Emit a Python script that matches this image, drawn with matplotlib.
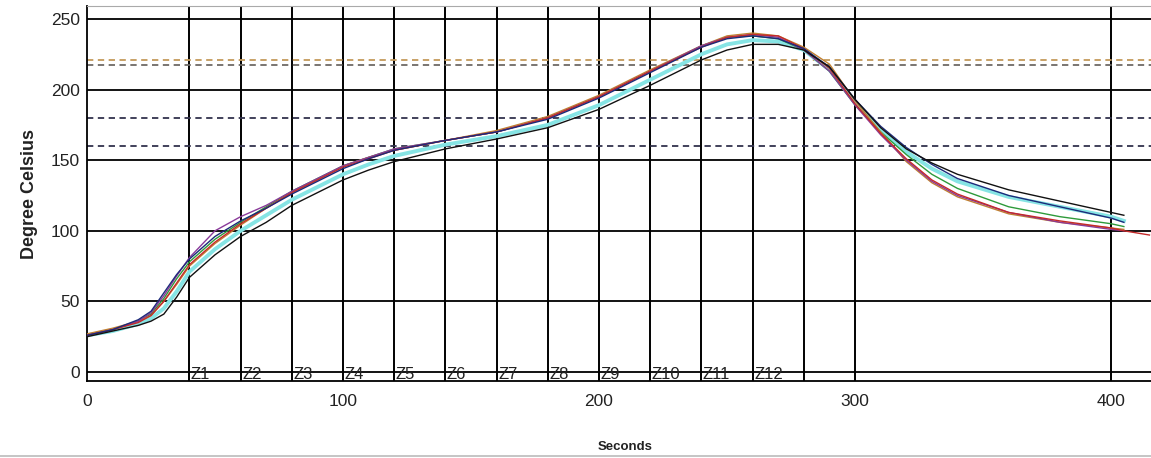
import matplotlib
matplotlib.use("Agg")
import matplotlib.pyplot as plt
from matplotlib.lines import Line2D

plt.rcParams['font.family'] = ['Liberation Sans', 'DejaVu Sans']

# Zeitachse (Sekunden) für alle Messfühler
t = [0, 10, 20, 25, 30, 35, 40, 50, 60, 70, 80, 90, 100, 110, 120, 140, 160, 180,
     200, 220, 240, 250, 260, 270, 280, 290, 300, 310, 320, 330, 340, 360, 380, 400, 405]
t_red = t + [415]

# Temperaturen der einzelnen Kanäle (°C)
temp_red = [26, 30, 35, 40, 50, 63, 76, 92, 105, 116, 127, 136, 145, 151, 157, 164, 170, 180,
            195, 213, 230, 237, 239, 238, 229, 215, 190, 169, 151, 136, 126, 113, 107, 102, 100, 97]
temp_green = [26, 30, 36, 41, 52, 66, 78, 94, 106, 117, 128, 137, 146, 152, 158, 164, 170, 180,
              195, 213, 231, 237, 238, 236, 228, 213, 189, 170, 154, 140, 130, 117, 110, 105, 103]
temp_navy = [26, 30, 37, 43, 56, 69, 80, 96, 107, 116, 126, 135, 144, 151, 157, 164, 170, 179,
             194, 212, 230, 236, 238, 236, 229, 216, 193, 174, 159, 147, 137, 125, 117, 109, 106]
temp_purple = [26, 30, 36, 42, 54, 68, 81, 100, 110, 118, 128, 137, 146, 152, 158, 164, 170, 180,
               195, 213, 231, 237, 239, 237, 228, 213, 189, 168, 150, 135, 125, 113, 106, 101, 100]
temp_orange = [27, 31, 36, 40, 50, 62, 75, 91, 104, 116, 127, 136, 146, 152, 157, 164, 171, 181,
               196, 214, 231, 238, 240, 238, 230, 218, 192, 170, 149, 134, 124, 112, 106, 102, 101]
temp_cyan = [26, 29, 34, 38, 45, 57, 71, 87, 100, 111, 122, 131, 140, 147, 153, 161, 167, 175,
             189, 207, 225, 232, 235, 234, 228, 214, 191, 171, 156, 144, 135, 124, 117, 110, 107]
temp_black = [25, 29, 33, 36, 41, 53, 67, 83, 96, 106, 118, 127, 136, 143, 149, 158, 165, 173,
              186, 203, 221, 228, 232, 232, 228, 216, 193, 173, 158, 148, 140, 129, 121, 113, 111]

# Grenzlinien (gestrichelt)
limits = [221, 217.5, 180, 160]
limit_colors = ['#c49a5a', '#6e6a66', '#33334d', '#33334d']

# Zonen
zone_pos = [40, 60, 80, 100, 120, 140, 160, 180, 200, 220, 240, 260]
zone_names = ['Z1', 'Z2', 'Z3', 'Z4', 'Z5', 'Z6', 'Z7', 'Z8', 'Z9', 'Z10', 'Z11', 'Z12']
extra_vlines = [280, 300, 400]

y_ticks = [0, 50, 100, 150, 200, 250]
x_ticks = [0, 100, 200, 300, 400]

fig = plt.figure(figsize=(11.51, 4.58), dpi=100)
ax = fig.add_axes([0.0756, 0.168, 0.9244, 0.819])
ax.set_xlim(0, 415.6)
ax.set_ylim(-6.4, 259.2)

# Gitter
for y in y_ticks:
    ax.axhline(y, color='black', lw=1.3, zorder=1)
for x in zone_pos + extra_vlines:
    ax.axvline(x, color='black', lw=1.4, zorder=1)
for y, c in zip(limits, limit_colors):
    ax.axhline(y, color=c, lw=1.3, linestyle=(0, (3.5, 2.5)), zorder=1)

# Kurven
ax.plot(t, temp_cyan, color='#86e4e4', lw=2.8, zorder=2)
ax.plot(t, temp_green, color='#2e9a3a', lw=1.0, zorder=3)
ax.plot(t, temp_orange, color='#c08030', lw=1.0, zorder=3)
ax.plot(t, temp_purple, color='#8a3a9a', lw=1.0, zorder=3)
ax.plot(t_red, temp_red, color='#c42a2a', lw=1.0, zorder=3)
ax.plot(t, temp_navy, color='#1c2a7a', lw=1.0, zorder=3)
ax.plot(t, temp_black, color='#111111', lw=1.0, zorder=3)

for x, name in zip(zone_pos, zone_names):
    ax.text(x + 0.6, -6.9, name, fontsize=12, color='#222222', va='bottom', ha='left', zorder=4)

ax.set_xticks(x_ticks)
ax.set_yticks(y_ticks)
ax.tick_params(length=0, labelsize=12.5, labelcolor='#222222')
ax.tick_params(axis='x', pad=9)
ax.tick_params(axis='y', pad=5)

ax.spines['right'].set_visible(False)
ax.spines['top'].set_color('#aaaaaa')
ax.spines['left'].set_linewidth(1.3)
ax.spines['bottom'].set_linewidth(1.3)

ax.set_ylabel('Degree Celsius', fontsize=13, fontweight='bold', color='#222222', labelpad=9)
fig.text(0.543, 0.012, 'Seconds', fontsize=9.5, fontweight='bold', color='#222222', ha='center', va='bottom')

fig.add_artist(Line2D([0, 1], [0.005, 0.005], color='#bbbbbb', lw=1.2))

fig.savefig('out.png', dpi=100)
